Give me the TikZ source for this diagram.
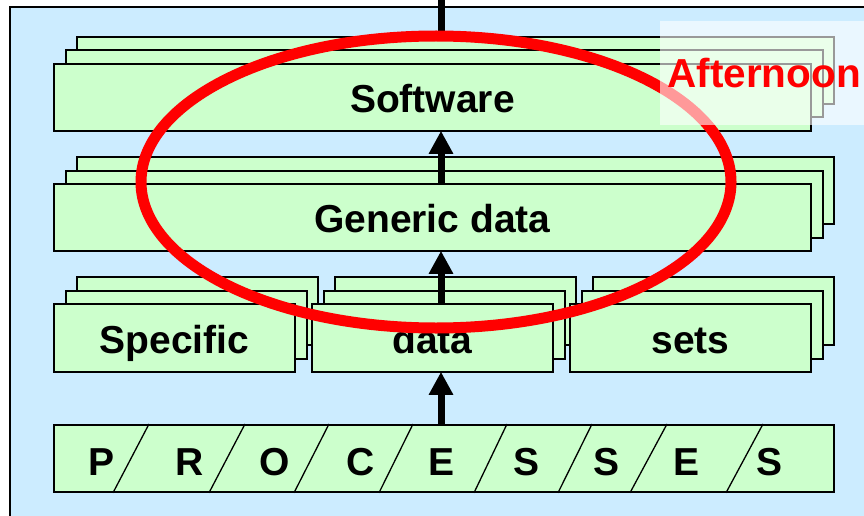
\documentclass[tikz,border=0pt]{standalone}
\usepackage{fontspec}
\setmainfont{Liberation Sans}
\usetikzlibrary{arrows.meta}
\definecolor{bgblue}{RGB}{204,236,255}
\definecolor{boxgreen}{RGB}{204,255,204}
\tikzset{
  box/.style={draw=black, line width=1.8pt, fill=boxgreen, rectangle, inner sep=0pt,
              text height=31pt, text depth=0pt,
              font=\bfseries\fontsize{39}{39}\selectfont, anchor=north west},
  arr/.style={line width=7pt, -{Triangle[length=23pt,width=23pt]}, shorten >=-1pt},
  plainline/.style={line width=7pt},
  divider/.style={line width=1.3pt},
  letter/.style={font=\bfseries\fontsize{39}{39}\selectfont, inner sep=0pt},
  redring/.style={draw=red, line width=11pt},
}
\begin{document}
\begin{tikzpicture}[x=1pt,y=-1pt]
\useasboundingbox (0,0) rectangle (864,516);
% background panel
\node[draw=black, line width=1.8pt, fill=bgblue, anchor=north west, minimum width=880pt, minimum height=530pt, inner sep=0pt] (panel) at (9,6) {};
\coordinate (top) at (441,-2);
% Software stack
\node[box, minimum width=757pt, minimum height=67pt] (swb) at (76,36) {};
\node[box, minimum width=757pt, minimum height=67pt] (swm) at (65,49) {};
\node[box, minimum width=757pt, minimum height=67pt] (sw) at (53,63) {Software};
% Generic data stack
\node[box, minimum width=757pt, minimum height=67pt] (gdb) at (76,156) {};
\node[box, minimum width=757pt, minimum height=67pt] (gdm) at (65,170) {};
\node[box, minimum width=757pt, minimum height=67pt] (gd) at (53,183) {Generic data};
% Specific data sets stacks
\node[box, minimum width=241pt, minimum height=68pt] (spb) at (76,276) {};
\node[box, minimum width=241pt, minimum height=68pt] (spm) at (65,290) {};
\node[box, minimum width=241pt, minimum height=68pt] (sp) at (53,303) {Specific};
\node[box, minimum width=241pt, minimum height=68pt] (dab) at (334,276) {};
\node[box, minimum width=241pt, minimum height=68pt] (dam) at (323,290) {};
\node[box, minimum width=241pt, minimum height=68pt] (da) at (311,303) {data};
\node[box, minimum width=241pt, minimum height=68pt] (seb) at (592,276) {};
\node[box, minimum width=241pt, minimum height=68pt] (sem) at (581,290) {};
\node[box, minimum width=241pt, minimum height=68pt] (se) at (569,303) {sets};
% Processes bar
\node[box, minimum width=780pt, minimum height=67pt] (pr) at (53,424) {};
\foreach \t/\b in {149/113,245/209,329/294,413/379,507/474,592/558,667/630,763/726}
  \draw[divider] (\t,0 |- pr.north) -- (\b,0 |- pr.south);
\foreach \x/\l [count=\i] in {102/P,190/R,275/O,361/C,441/E,526/S,606/S,686/E,769/S}
  \node[letter] (pl\i) at (\x,462) {\l};
% connectors
\draw[plainline] (441,0 |- swb.north) -- (top);
\draw[arr] (441,0 |- gd.north) -- (441,0 |- sw.south);
\draw[arr] (441,0 |- da.north) -- (441,0 |- gd.south);
\draw[arr] (441,0 |- pr.north) -- (441,0 |- da.south);
% red ring
\draw[redring] (436,182) ellipse [x radius=295pt, y radius=146pt];
% afternoon overlay
\fill[white, opacity=0.6] (660,21) rectangle (866,125);
\node[text=red, font=\bfseries\fontsize{40.5}{40.5}\selectfont, inner sep=0pt] (aft) at (764,73) {Afternoon};
\end{tikzpicture}
\end{document}
